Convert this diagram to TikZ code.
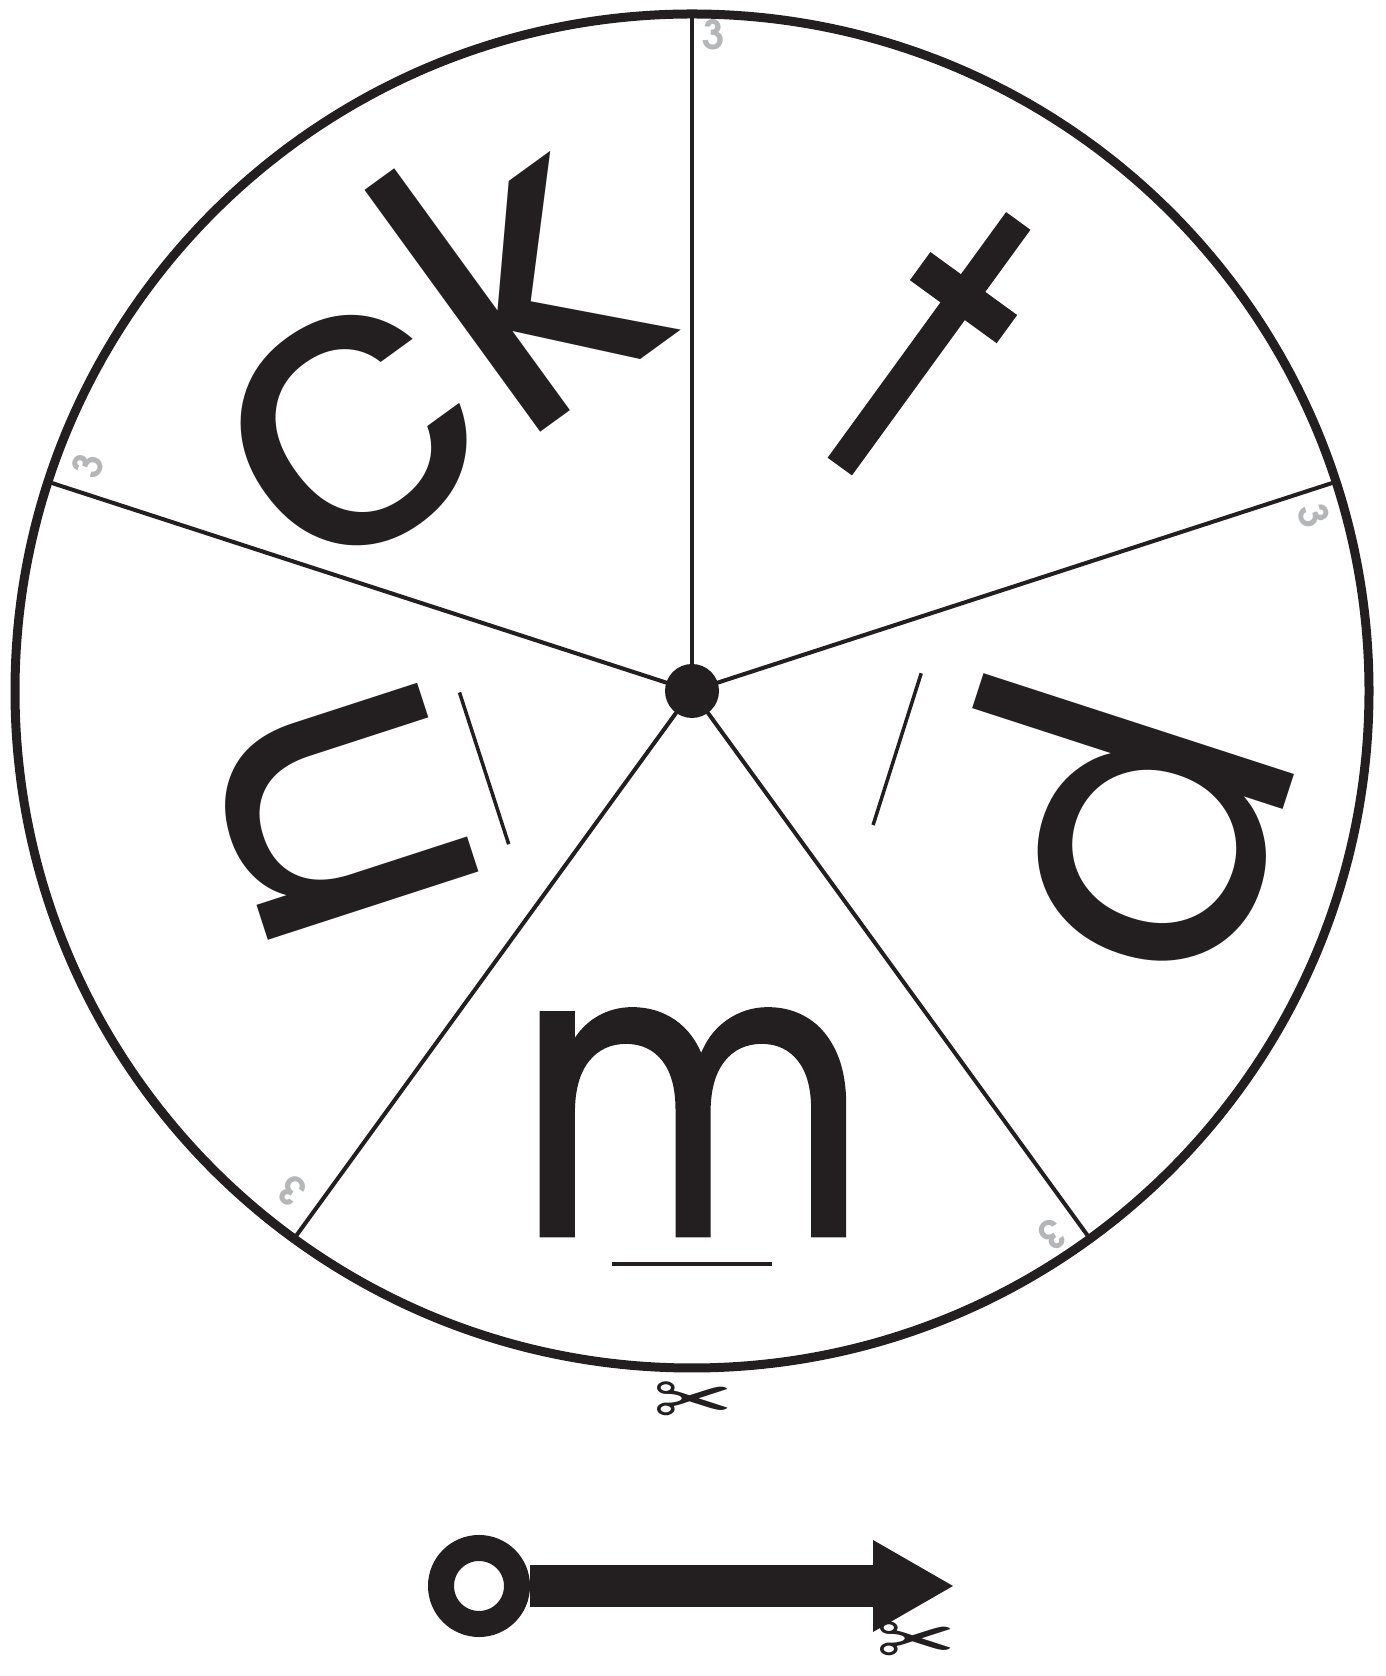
\documentclass[tikz,border=0pt]{standalone}
\usepackage{fontspec}
\usepackage{graphicx}
\setmainfont{Poppins}
\newfontfamily\popm{Poppins}[RawFeature={embolden=1.2}]
\newfontfamily\advt{texgyreadventor}[Extension=.otf, UprightFont=*-regular, RawFeature={embolden=2}]
\newfontfamily\advb{texgyreadventor}[Extension=.otf, UprightFont=*-bold]
\newfontfamily\symfont{DejaVu Sans}
\usetikzlibrary{calc}
\definecolor{ink}{HTML}{231F20}
\definecolor{numgray}{HTML}{B4B6B8}
\begin{document}
\begin{tikzpicture}[x=1pt,y=1pt,
  letter/.style={inner sep=0pt, outer sep=0pt, anchor=base, font=\fontsize{404}{404}\selectfont, text=ink},
  num/.style={inner sep=0pt, font=\advb\fontsize{40}{40}\selectfont, text=numgray},
  spoke/.style={draw=ink, line width=4pt},
  rim/.style={draw=ink, line width=9pt},
  underbar/.style={draw=ink, line width=3.5pt},
  cut/.style={inner sep=0pt, font=\symfont\fontsize{95}{95}\selectfont, text=ink}]
\useasboundingbox (0,0) rectangle (1385,1676);
\coordinate (C) at (692,985);
\draw[rim] (C) circle[radius=677];
\foreach \a/\n in {90/r1,162/r2,234/r3,306/r4,18/r5}{
  \coordinate (\n) at ($(C)+(\a:677)$);
  \draw[spoke] (C) -- (\n);
}
\node[circle, fill=ink, minimum size=54pt, inner sep=0pt] (hub) at (C) {};
% numbers
\node[num] (n1) at (713.5,1641) {3};
\node[num, rotate=-72] (n2) at (1314,1160) {3};
\node[num, rotate=-144] (n3) at (1052,441) {3};
\node[num, rotate=144] (n4) at (291.5,485) {3};
\node[num, rotate=72] (n5) at (88,1211) {3};
% letters
\node[letter, rotate=36] (ck) at (500.5,1214.7) {ck};
\node[letter, rotate=-36, font=\advt\fontsize{400}{400}\selectfont] (t) at (842.8,1212.2) {\scalebox{0.8}[1]{t}};
\node[letter, rotate=-108] (p) at (1051.6,869.7) {p};
\node[letter, font=\popm\fontsize{404}{404}\selectfont] (m) at (692,441) {\scalebox{0.85}[1]{m}};
\node[letter, rotate=108] (nn) at (449,897.7) {n};
% underlines
\coordinate (ma) at (612,412); \coordinate (mb) at (772,412);
\draw[underbar, line width=4.5pt] (ma) -- (mb);
\coordinate (na) at (459.5,983.5); \coordinate (nb) at (508.7,831.8);
\draw[underbar] (na) -- (nb);
\coordinate (pa) at (921.2,1002.7); \coordinate (pb) at (873.1,851);
\draw[underbar] (pa) -- (pb);
% scissors
\node[cut] (sc1) at (693,272) {\scalebox{1}[0.8]{✂}};
\node[cut] (sc2) at (916,32) {\scalebox{1}[0.8]{✂}};
% pointer
\node[circle, draw=ink, line width=26pt, minimum size=76pt, inner sep=0pt] (pivot) at (479,90) {};
\coordinate (hb) at (874,90);
\draw[ink, line width=42pt] (pivot.east) -- (hb);
\fill[ink] (873,136) -- (953,90) -- (873,44) -- cycle;
\end{tikzpicture}
\end{document}
